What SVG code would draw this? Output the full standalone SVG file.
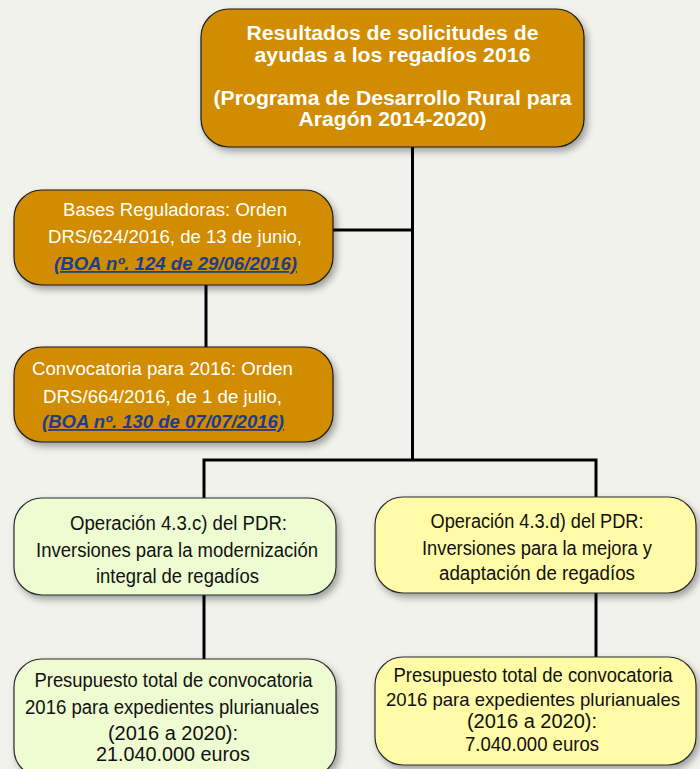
<svg xmlns="http://www.w3.org/2000/svg" width="700" height="769" viewBox="0 0 700 769">
<defs>
<filter id="sh" x="-10%" y="-10%" width="125%" height="130%">
<feDropShadow dx="3" dy="4" stdDeviation="3.5" flood-color="#000" flood-opacity="0.35"/>
</filter>
<style>
.gold{fill:#D18C00;stroke:#1a1a1a;stroke-width:1.2}
.green{fill:#EEFCD1;stroke:#2a2a2a;stroke-width:1.2}
.yellow{fill:#FFFBA6;stroke:#2a2a2a;stroke-width:1.2}
.tb{font-family:"Liberation Sans",Arial,sans-serif;font-weight:bold;font-size:20px;fill:#fff;text-anchor:middle}
.tw{font-family:"Liberation Sans",Arial,sans-serif;font-size:18px;fill:#fff;text-anchor:middle}
.lk{font-family:"Liberation Sans",Arial,sans-serif;font-size:18px;font-weight:bold;font-style:italic;fill:#1C3D8E;text-anchor:middle;text-decoration:underline}
.tn{font-family:"Liberation Sans",Arial,sans-serif;font-size:20px;fill:#111;text-anchor:middle}
.ln{stroke:#000;stroke-width:3;fill:none}
</style>
</defs>
<rect width="700" height="769" fill="#F2F2ED"/>
<g id="connectors">
<path class="ln" d="M412.5,147 V460"/>
<path class="ln" d="M333,230 H412.5"/>
<path class="ln" d="M206,285 V347"/>
<path class="ln" d="M204,498 V460 H596 V497"/>
<path class="ln" d="M204,595 V659"/>
<path class="ln" d="M596,593 V657"/>
</g>
<g id="titulo">
<rect class="gold" x="201" y="9" width="383" height="138" rx="28" filter="url(#sh)"/>
<text class="tb" x="392.5" y="40" textLength="292" lengthAdjust="spacingAndGlyphs">Resultados de solicitudes de</text>
<text class="tb" x="392.5" y="62" textLength="276" lengthAdjust="spacingAndGlyphs">ayudas a los regadíos 2016</text>
<text class="tb" x="392.5" y="105" textLength="358" lengthAdjust="spacingAndGlyphs">(Programa de Desarrollo Rural para</text>
<text class="tb" x="392.5" y="126" textLength="188" lengthAdjust="spacingAndGlyphs">Aragón 2014-2020)</text>
</g>
<g id="bases">
<rect class="gold" x="14" y="190" width="319" height="95" rx="28" filter="url(#sh)"/>
<text class="tw" x="175" y="216" textLength="224" lengthAdjust="spacingAndGlyphs">Bases Reguladoras: Orden</text>
<text class="tw" x="175" y="243" textLength="254" lengthAdjust="spacingAndGlyphs">DRS/624/2016, de 13 de junio,</text>
<text class="lk" x="175.5" y="270" textLength="243" lengthAdjust="spacingAndGlyphs">(BOA nº. 124 de 29/06/2016)</text>
</g>
<g id="convocatoria">
<rect class="gold" x="14" y="347" width="319" height="95" rx="28" filter="url(#sh)"/>
<text class="tw" x="162.5" y="375" textLength="261" lengthAdjust="spacingAndGlyphs">Convocatoria para 2016: Orden</text>
<text class="tw" x="162.5" y="403" textLength="239" lengthAdjust="spacingAndGlyphs">DRS/664/2016, de 1 de julio,</text>
<text class="lk" x="163" y="428" textLength="242" lengthAdjust="spacingAndGlyphs">(BOA nº. 130 de 07/07/2016)</text>
</g>
<g id="op43c">
<rect class="green" x="14" y="498" width="322" height="97" rx="28" filter="url(#sh)"/>
<text class="tn" x="178.5" y="530" textLength="217" lengthAdjust="spacingAndGlyphs">Operación 4.3.c) del PDR:</text>
<text class="tn" x="177" y="557" textLength="282" lengthAdjust="spacingAndGlyphs">Inversiones para la modernización</text>
<text class="tn" x="177.5" y="583" textLength="163" lengthAdjust="spacingAndGlyphs">integral de regadíos</text>
</g>
<g id="op43d">
<rect class="yellow" x="375" y="497" width="321" height="96" rx="28" filter="url(#sh)"/>
<text class="tn" x="537" y="528" textLength="213" lengthAdjust="spacingAndGlyphs">Operación 4.3.d) del PDR:</text>
<text class="tn" x="537" y="555" textLength="230" lengthAdjust="spacingAndGlyphs">Inversiones para la mejora y</text>
<text class="tn" x="537" y="580" textLength="196" lengthAdjust="spacingAndGlyphs">adaptación de regadíos</text>
</g>
<g id="presupuesto43c">
<rect class="green" x="14" y="659" width="322" height="118" rx="28" filter="url(#sh)"/>
<text class="tn" x="173.5" y="687" textLength="278" lengthAdjust="spacingAndGlyphs">Presupuesto total de convocatoria</text>
<text class="tn" x="172" y="714" textLength="294" lengthAdjust="spacingAndGlyphs">2016 para expedientes plurianuales</text>
<text class="tn" x="173" y="740">(2016 a 2020):</text>
<text class="tn" x="173" y="761" textLength="154" lengthAdjust="spacingAndGlyphs">21.040.000 euros</text>
</g>
<g id="presupuesto43d">
<rect class="yellow" x="375" y="657" width="321" height="108" rx="28" filter="url(#sh)"/>
<text class="tn" x="533" y="682" textLength="279" lengthAdjust="spacingAndGlyphs">Presupuesto total de convocatoria</text>
<text class="tn" x="533" y="706" style="font-size:19px" textLength="294" lengthAdjust="spacingAndGlyphs">2016 para expedientes plurianuales</text>
<text class="tn" x="532" y="728">(2016 a 2020):</text>
<text class="tn" x="532" y="751" textLength="134" lengthAdjust="spacingAndGlyphs">7.040.000 euros</text>
</g>
</svg>
